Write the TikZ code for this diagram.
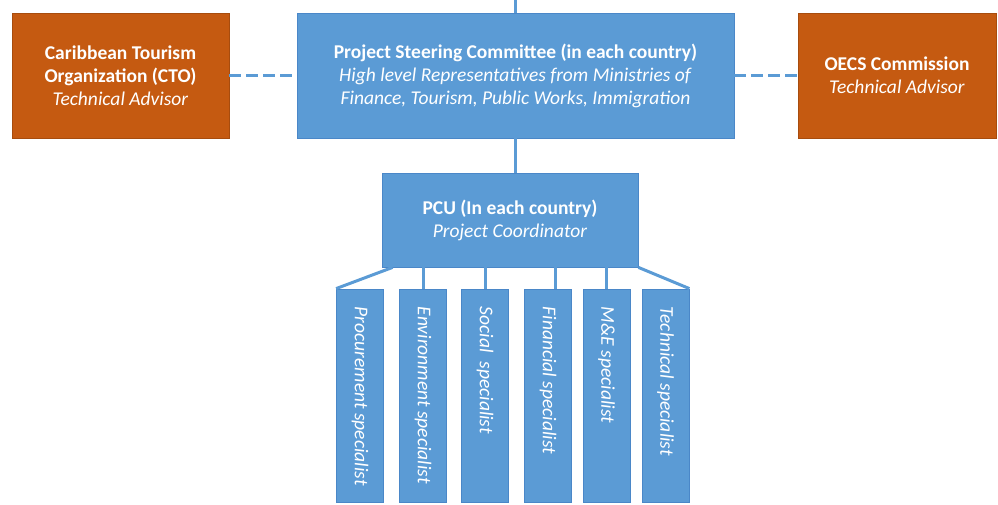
\documentclass[tikz,border=0pt]{standalone}
\usepackage{fontspec}
\setmainfont{Carlito}
\definecolor{boxblue}{HTML}{5B9BD5}
\definecolor{edgeblue}{HTML}{4A87C8}
\definecolor{boxorange}{HTML}{C55A11}

\begin{document}
\begin{tikzpicture}[x=1pt, y=1pt,
    bluebox/.style={fill=boxblue, draw=edgeblue, line width=0.8pt, text=white, align=center, inner sep=0pt},
    orangebox/.style={fill=boxorange, draw=boxorange!85!black, line width=0.8pt, text=white, align=center, inner sep=0pt},
    specbox/.style={bluebox, minimum width=47, minimum height=213},
    spectext/.style={text=white, rotate=-90, anchor=west, font=\fontsize{19.5}{22}\selectfont\itshape, inner sep=0pt},
    link/.style={boxblue, line width=3pt},
    dashlink/.style={boxblue, line width=3pt, dash pattern=on 12pt off 5pt}]
    \useasboundingbox (0,0) rectangle (998,504);
    \fontsize{19.5}{23}\selectfont

    % Top row
    \node[orangebox, minimum width=217, minimum height=125] (cto) at (120.5,428.5)
        {\textbf{Caribbean Tourism}\\ \textbf{Organization (CTO)}\\ \textit{Technical Advisor}};
    \node[bluebox, minimum width=437, minimum height=125] (psc) at (515.5,428.5)
        {\textbf{Project Steering Committee (in each country)}\\ \textit{High level Representatives from Ministries of}\\ \textit{Finance, Tourism, Public Works, Immigration}};
    \node[orangebox, minimum width=198, minimum height=125] (oecs) at (897,428.5)
        {\textbf{OECS Commission}\\ \textit{Technical Advisor}};

    % PCU
    \node[bluebox, minimum width=256, minimum height=94] (pcu) at (510,284)
        {\textbf{PCU (In each country)}\\ \textit{Project Coordinator}};

    % Specialists
    \node[specbox] (proc) at (360,108.5) {};
    \node[specbox] (env) at (423,108.5) {};
    \node[specbox] (soc) at (485,108.5) {};
    \node[specbox] (fin) at (548,108.5) {};
    \node[specbox] (me) at (606.5,108.5) {};
    \node[specbox] (tech) at (665.5,108.5) {};

    \node[spectext] at ([yshift=-18]proc.north) {Procurement specialist};
    \node[spectext] at ([yshift=-18]env.north) {Environment specialist};
    \node[spectext] at ([yshift=-18]soc.north) {Social\ \ specialist};
    \node[spectext] at ([yshift=-18]fin.north) {Financial specialist};
    \node[spectext] at ([yshift=-18]me.north) {M\&E specialist};
    \node[spectext] at ([yshift=-18]tech.north) {Technical specialist};

    % Connectors
    \coordinate (top) at (515,504);
    \draw[link] (top) -- (psc.north -| top);
    \draw[link] (psc.south -| top) -- (pcu.north -| top);
    \draw[dashlink] (cto.east) -- (psc.west);
    \draw[dashlink] (psc.east) -- (oecs.west);

    \draw[link] ([xshift=11]pcu.south west) -- (proc.north west);
    \draw[link] (env.north) -- (env.north |- pcu.south);
    \draw[link] (soc.north) -- (soc.north |- pcu.south);
    \draw[link] ([xshift=7]fin.north) -- ([xshift=7]fin.north |- pcu.south);
    \draw[link] (me.north) -- (me.north |- pcu.south);
    \draw[link] (pcu.south east) -- (tech.north east);
\end{tikzpicture}
\end{document}
